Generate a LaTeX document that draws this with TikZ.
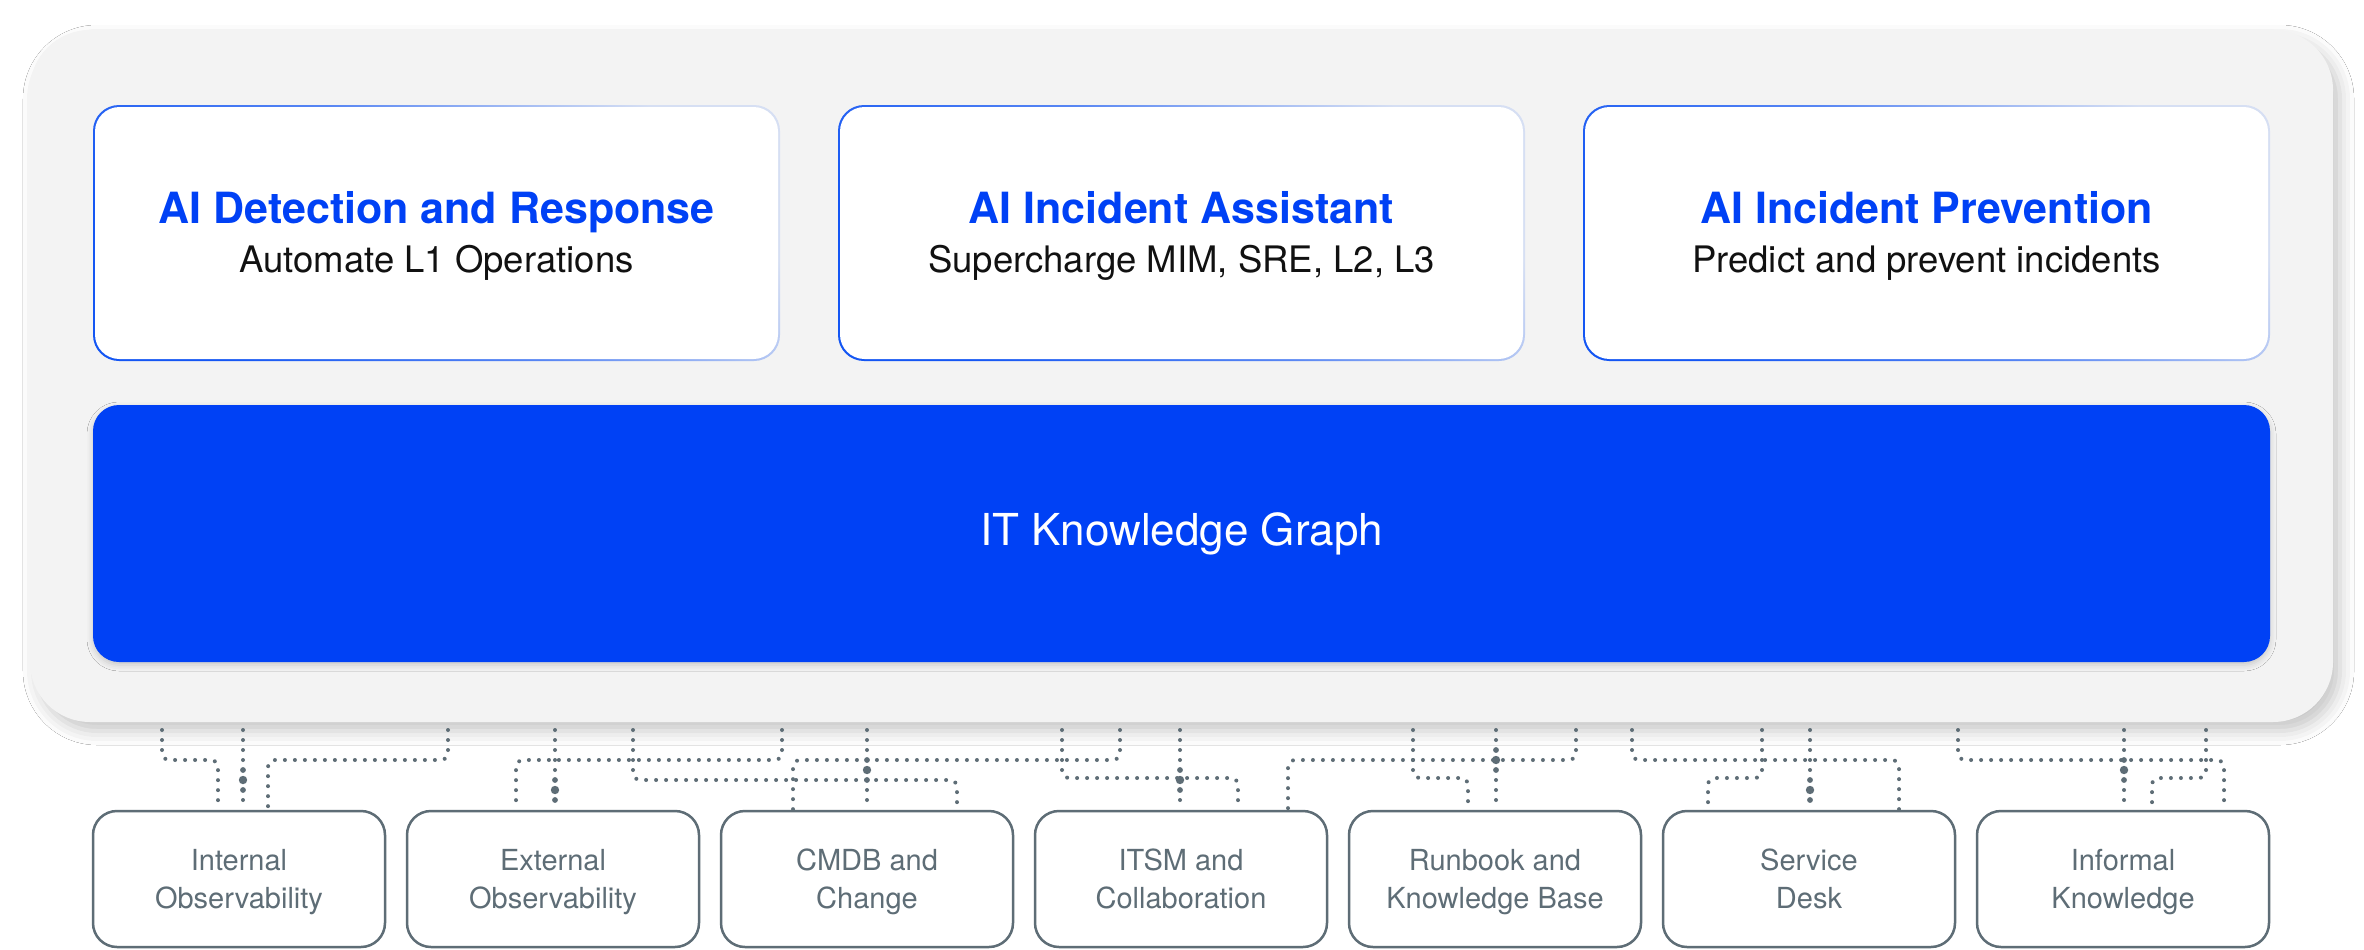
\documentclass[tikz,border=0pt]{standalone}
\usepackage{fontspec}
\setmainfont{TeX Gyre Heros}
\usetikzlibrary{calc,shadows.blur}
\definecolor{brandblue}{HTML}{0041F5}
\definecolor{slate}{HTML}{5E6D76}
\definecolor{panelgray}{HTML}{F3F3F3}
\definecolor{edgeblue}{HTML}{1456F3}
\definecolor{edgelight}{HTML}{D6DFF3}
\definecolor{ink}{HTML}{111111}
\newcommand\lnstrut{\vrule height 29pt depth 9pt width 0pt}
\tikzset{
  panelbox/.style={fill=panelgray, rounded corners=60pt, minimum width=2303pt, minimum height=692pt, inner sep=0pt,
    blur shadow={shadow xshift=7pt, shadow yshift=-9pt, shadow blur radius=14pt, shadow opacity=22}},
  cardedge/.style={rounded corners=26pt, top color=edgelight, bottom color=edgeblue, middle color=edgeblue!65!edgelight, shading angle=-50},
  card/.style={fill=white, rounded corners=24.5pt, minimum width=683pt, minimum height=252pt, inner sep=0pt},
  cardtitle/.style={anchor=base, text=brandblue, font=\fontsize{43}{50}\selectfont\bfseries},
  cardsub/.style={anchor=base, text=ink, font=\fontsize{36.5}{44}\selectfont},
  graphbar/.style={fill=brandblue, rounded corners=26pt, minimum width=2177pt, minimum height=257pt, inner sep=0pt,
    text=white, font=\fontsize{44}{52}\selectfont,
    blur shadow={shadow xshift=0pt, shadow yshift=-3pt, shadow blur radius=6pt, shadow opacity=18}},
  source/.style={draw=slate, line width=2.5pt, rounded corners=24pt, minimum width=292pt, minimum height=136pt,
    inner sep=0pt, text=slate, align=center, font=\fontsize{29}{38}\selectfont},
  dotline/.style={draw=slate, line width=4pt, line cap=round, dash pattern=on 0pt off 10pt, rounded corners=7pt},
  hub/.style={fill=slate}
}
\begin{document}
\begin{tikzpicture}[x=1pt,y=-1pt]
\useasboundingbox (0,0) rectangle (2364,950);
\fill[white] (0,0) rectangle (2364,950);

% outer panel
\node[panelbox] (panel) at (1181.5,376) {};

% top cards
\shade[cardedge] (93,105) rectangle (780,361);
\node[card] (d1) at (436.5,233) {};
\shade[cardedge] (838,105) rectangle (1525,361);
\node[card] (d2) at (1181.5,233) {};
\shade[cardedge] (1583,105) rectangle (2270,361);
\node[card] (d3) at (1926.5,233) {};

\node[cardtitle] (d1t) at ($(d1.center)+(0,-10)$) {AI Detection and Response};
\node[cardsub]   (d1s) at ($(d1.center)+(0,39)$) {Automate L1 Operations};
\node[cardtitle] (d2t) at ($(d2.center)+(0,-10)$) {AI Incident Assistant};
\node[cardsub]   (d2s) at ($(d2.center)+(0,39)$) {Supercharge MIM, SRE, L2, L3};
\node[cardtitle] (d3t) at ($(d3.center)+(0,-10)$) {AI Incident Prevention};
\node[cardsub]   (d3s) at ($(d3.center)+(0,39)$) {Predict and prevent incidents};

% knowledge graph bar
\node[graphbar] (kg) at (1181.5,533.5) {\raisebox{-3pt}{IT Knowledge Graph}};

% source boxes
\node[source] (src1) at (239,879)  {\lnstrut Internal\\\lnstrut Observability};
\node[source] (src2) at (553,879)  {\lnstrut External\\\lnstrut Observability};
\node[source] (src3) at (867,879)  {\lnstrut CMDB and\\\lnstrut Change};
\node[source] (src4) at (1181,879) {\lnstrut ITSM and\\\lnstrut Collaboration};
\node[source] (src5) at (1495,879) {\lnstrut Runbook and\\\lnstrut Knowledge Base};
\node[source] (src6) at (1809,879) {\lnstrut Service\\\lnstrut Desk};
\node[source] (src7) at (2123,879) {\lnstrut Informal\\\lnstrut Knowledge};

% connector start points under the panel
\coordinate (p1) at (162,730);
\coordinate (p2) at (243,730);
\coordinate (p3) at (448,730);
\coordinate (p4) at (782,730);
\coordinate (p5) at (555,730);
\coordinate (p6) at (1120,730);
\coordinate (p7) at (867,730);
\coordinate (p8) at (633,730);
\coordinate (p9) at (1180,730);
\coordinate (p10) at (1062,730);
\coordinate (p11) at (1576,730);
\coordinate (p12) at (1413,730);
\coordinate (p13) at (1496,730);
\coordinate (p14) at (1762,730);
\coordinate (p15) at (1810,730);
\coordinate (p16) at (1632,730);
\coordinate (p17) at (2124,730);
\coordinate (p18) at (2206,730);
\coordinate (p19) at (1958,730);

% box 1
\draw[dotline] (p1) -- (162,760) -- (218,760) -- ([xshift=-21pt]src1.north);
\draw[dotline] (p2) -- ([xshift=4pt]src1.north);
\draw[dotline] (p3) -- (448,760) -- (268,760) -- ([xshift=29pt]src1.north);
% box 2
\draw[dotline] (p4) -- (782,760) -- (516,760) -- ([xshift=-37pt]src2.north);
\draw[dotline] (p5) -- ([xshift=2pt]src2.north);
% box 3
\draw[dotline] (p6) -- (1120,760) -- (793,760) -- ([xshift=-74pt]src3.north);
\draw[dotline] (p7) -- (src3.north);
\draw[dotline] (p8) -- (633,780) -- (957,780) -- ([xshift=90pt]src3.north);
% box 4
\draw[dotline] (p9) -- ([xshift=-1pt]src4.north);
\draw[dotline] (p10) -- (1062,778) -- (1238,778) -- ([xshift=57pt]src4.north);
\draw[dotline] (p11) -- (1576,760) -- (1288,760) -- ([xshift=107pt]src4.north);
% box 5
\draw[dotline] (p12) -- (1413,778) -- (1468,778) -- ([xshift=-27pt]src5.north);
\draw[dotline] (p13) -- ([xshift=1pt]src5.north);
% box 6
\draw[dotline] (p14) -- (1762,778) -- (1708,778) -- ([xshift=-101pt]src6.north);
\draw[dotline] (p15) -- ([xshift=1pt]src6.north);
\draw[dotline] (p16) -- (1632,760) -- (1899,760) -- ([xshift=90pt]src6.north);
% box 7
\draw[dotline] (p17) -- ([xshift=1pt]src7.north);
\draw[dotline] (p18) -- (2206,778) -- (2152,778) -- ([xshift=29pt]src7.north);
\draw[dotline] (p19) -- (1958,760) -- (2224,760) -- ([xshift=101pt]src7.north);

% hub markers on the straight lines
\fill[hub] (243,780) circle[radius=4.2] (243,770) circle[radius=2.9] (243,790) circle[radius=2.9];
\fill[hub] (555,790) circle[radius=4.2] (555,780) circle[radius=2.9] (555,800) circle[radius=2.9];
\fill[hub] (867,770) circle[radius=4.2] (867,760) circle[radius=2.9] (867,780) circle[radius=2.9];
\fill[hub] (1180,780) circle[radius=4.2] (1180,770) circle[radius=2.9] (1180,790) circle[radius=2.9];
\fill[hub] (1496,760) circle[radius=4.2] (1496,750) circle[radius=2.9] (1496,770) circle[radius=2.9];
\fill[hub] (1810,790) circle[radius=4.2] (1810,780) circle[radius=2.9] (1810,800) circle[radius=2.9];
\fill[hub] (2124,770) circle[radius=4.2] (2124,760) circle[radius=2.9] (2124,780) circle[radius=2.9];
\end{tikzpicture}
\end{document}
